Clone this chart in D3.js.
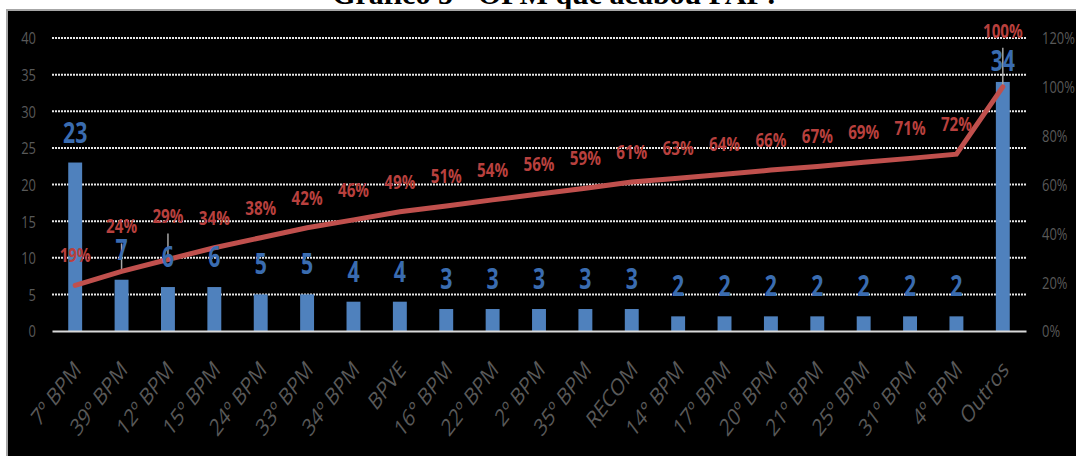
<!DOCTYPE html>
<html>
<head>
<meta charset="utf-8">
<script src="https://cdn.jsdelivr.net/npm/d3@7"></script>
<style>
  body { margin: 0; background: #fff; }
</style>
</head>
<body>
<div id="chart"></div>
<script>
var width  = 1076;
var height = 456;

// The source picture is squeezed sideways, so every text is too.
var sx = 0.76;

var title = "Gráfico 5 - OPM que acabou PAF?";

var categories = ["7º BPM", "39º BPM", "12º BPM", "15º BPM", "24º BPM", "33º BPM",
                  "34º BPM", "BPVE", "16° BPM", "22º BPM", "2º BPM", "35º BPM",
                  "RECOM", "14° BPM", "17º BPM", "20º BPM", "21º BPM", "25º BPM",
                  "31º BPM", "4º BPM", "Outros"];

var counts = [23, 7, 6, 6, 5, 5, 4, 4, 3, 3, 3, 3, 3, 2, 2, 2, 2, 2, 2, 2, 34];

// Cumulative share, in percent
var cumulative = [18.7, 24.4, 29.3, 34.1, 38.2, 42.3, 45.5, 48.8, 51.2, 53.7, 56.1,
                  58.5, 61.0, 62.6, 64.2, 65.9, 67.4, 69.1, 70.7, 72.4, 100];

var countTicks = [0, 5, 10, 15, 20, 25, 30, 35, 40];
var pctTicks   = [0, 20, 40, 60, 80, 100, 120];

// Labels that were dragged up, with a leader line (index: lift in px)
var pctLift   = { 1: 38, 2: 36, 20: 49 };
var countLift = { 20: 11 };

var plot = { left: 52, right: 1026, top: 38, bottom: 331 };

var svg = d3.select('#chart')
            .append('svg')
            .attr('width', width)
            .attr('height', height);

svg.append('text')
   .attr('x', 556)
   .attr('y', 4)
   .attr('text-anchor', 'middle')
   .style('font', 'bold 30px "Liberation Serif", "DejaVu Serif", serif')
   .style('fill', '#000')
   .text(title);

svg.append('rect')
   .attr('x', 7)
   .attr('y', 10)
   .attr('width', width)
   .attr('height', height)
   .style('fill', '#000')
   .style('stroke', '#a6a6a6')
   .style('stroke-width', 2);

var x = d3.scaleBand()
          .domain(categories)
          .range([plot.left, plot.right])
          .paddingInner(0.7)
          .paddingOuter(0.35);

var y = d3.scaleLinear()
          .domain([0, 40])
          .range([plot.bottom, plot.top]);

var y2 = d3.scaleLinear()
           .domain([0, 120])
           .range([plot.bottom, plot.top]);

function cx(i) { return x(categories[i]) + x.bandwidth() / 2; }

// Dotted gridlines
svg.append('g')
   .selectAll('line')
   .data(countTicks.filter(function(t) { return t > 0; }))
   .enter()
   .append('line')
   .attr('x1', plot.left)
   .attr('x2', plot.right)
   .attr('y1', function(d) { return y(d); })
   .attr('y2', function(d) { return y(d); })
   .style('stroke', '#e6e6e6')
   .style('stroke-width', 2)
   .style('stroke-dasharray', '2,1');

// Bars
svg.append('g')
   .selectAll('rect')
   .data(counts)
   .enter()
   .append('rect')
   .attr('x', function(d, i) { return x(categories[i]); })
   .attr('width', x.bandwidth())
   .attr('y', function(d) { return y(d); })
   .attr('height', function(d) { return y(0) - y(d); })
   .style('fill', '#4f81bd');

// Axes
var axisFont = '17px "Open Sans", "Noto Sans", sans-serif';

var left = svg.append('g')
              .attr('transform', 'translate(36,0)')
              .call(d3.axisLeft(y).tickValues(countTicks).tickSize(0).tickPadding(0));
left.select('.domain').remove();

var right = svg.append('g')
               .attr('transform', 'translate(1042,0)')
               .call(d3.axisRight(y2).tickValues(pctTicks).tickSize(0).tickPadding(0)
                       .tickFormat(function(d) { return d + '%'; }));
right.select('.domain').remove();

var bottom = svg.append('g')
                .attr('transform', 'translate(0,' + plot.bottom + ')')
                .call(d3.axisBottom(x).tickSize(0).tickSizeOuter(0).tickPadding(0));
bottom.select('.domain')
      .style('stroke', '#d9d9d9')
      .style('stroke-width', 2);

svg.selectAll('.tick text')
   .style('font', axisFont)
   .style('fill', '#595959');

left.selectAll('.tick text').attr('dy', '0.35em').attr('transform', 'scale(' + sx + ',1)');
right.selectAll('.tick text').attr('dy', '0.35em').attr('transform', 'scale(' + sx + ',1)');

bottom.selectAll('.tick text')
      .attr('y', 0)
      .attr('dy', 0)
      .attr('text-anchor', 'end')
      .style('font-size', '24px')
      .attr('transform', 'translate(7,40) scale(' + sx + ',1) rotate(-45)');

// Leader lines of the moved labels
svg.append('g')
   .selectAll('line')
   .data(Object.keys(pctLift).map(Number))
   .enter()
   .append('line')
   .attr('x1', function(i) { return cx(i); })
   .attr('x2', function(i) { return cx(i); })
   .attr('y1', function(i) { return y2(cumulative[i]) - pctLift[i] + 10; })
   .attr('y2', function(i) { return y2(cumulative[i]); })
   .style('stroke', '#a6a6a6')
   .style('stroke-width', 1.5);

// Cumulative line
var line = d3.line()
             .x(function(d, i) { return cx(i); })
             .y(function(d) { return y2(d); });

svg.append('path')
   .datum(cumulative)
   .attr('d', line)
   .style('fill', 'none')
   .style('stroke', '#c0504d')
   .style('stroke-width', 5)
   .style('stroke-linecap', 'round');

// Count labels
svg.append('g')
   .selectAll('text')
   .data(counts)
   .enter()
   .append('text')
   .attr('transform', function(d, i) {
     var lift = countLift[i] || 20;
     return 'translate(' + cx(i) + ',' + (y(d) - lift) + ') scale(' + sx + ',1)';
   })
   .attr('text-anchor', 'middle')
   .style('font', 'bold 28px "Open Sans", "Noto Sans", sans-serif')
   .style('fill', '#3a6cb0')
   .text(function(d) { return d; });

// Percentage labels
svg.append('g')
   .selectAll('text')
   .data(cumulative)
   .enter()
   .append('text')
   .attr('transform', function(d, i) {
     var lift = pctLift[i] || 23;
     return 'translate(' + cx(i) + ',' + (y2(d) - lift) + ') scale(' + sx + ',1)';
   })
   .attr('text-anchor', 'middle')
   .style('font', 'bold 20px "Open Sans", "Noto Sans", sans-serif')
   .style('fill', '#b8403e')
   .text(function(d) { return Math.round(d) + '%'; });
</script>
</body>
</html>
